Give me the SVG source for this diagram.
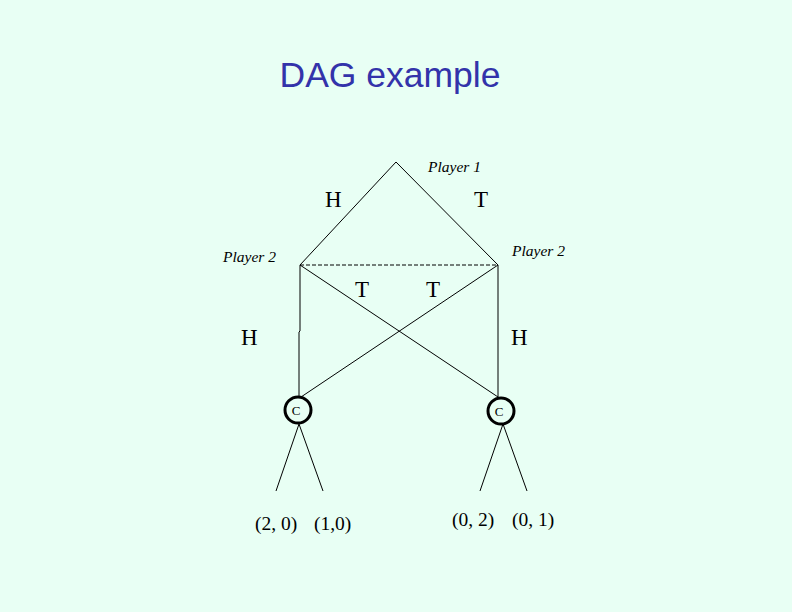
<svg xmlns="http://www.w3.org/2000/svg" width="792" height="612" viewBox="0 0 792 612">
<style>
.e{stroke:#000;stroke-width:1;fill:none}
.t{font-family:"Liberation Serif",serif;fill:#000}
.it{font-family:"Liberation Serif",serif;font-style:italic;font-size:15.5px;fill:#000}
.c{fill:none;stroke:#000;stroke-width:3}
</style>
<rect width="792" height="612" fill="#E8FFF4"/>
<text x="390" y="87" font-family="Liberation Sans,Arial,sans-serif" font-size="35.5" fill="#3333AA" text-anchor="middle">DAG example</text>
<g id="connectors">
<line class="e" x1="396" y1="162" x2="300" y2="265"/>
<line class="e" x1="396" y1="162" x2="498" y2="265"/>
<line class="e" x1="300" y1="265" x2="498" y2="265" stroke-dasharray="4,2"/>
<polyline class="e" points="300,265 300,331 299,332 299,397"/>
<line class="e" x1="498" y1="265" x2="498" y2="397"/>
<line class="e" x1="300" y1="265" x2="498" y2="397"/>
<line class="e" x1="498" y1="265" x2="301" y2="397"/>
<line class="e" x1="299" y1="424" x2="276" y2="491"/>
<line class="e" x1="299" y1="424" x2="323" y2="491"/>
<line class="e" x1="503" y1="424" x2="480" y2="491"/>
<line class="e" x1="503" y1="424" x2="527" y2="491"/>
</g>
<g id="player1"><text class="it" x="428" y="172">Player 1</text></g>
<g id="player2left"><text class="it" x="223" y="262">Player 2</text></g>
<g id="player2right"><text class="it" x="512" y="256">Player 2</text></g>
<g id="labels">
<text class="t" x="325" y="207" font-size="23">H</text>
<text class="t" x="474" y="207" font-size="23">T</text>
<text class="t" x="355" y="297" font-size="23">T</text>
<text class="t" x="426" y="297" font-size="23">T</text>
<text class="t" x="241" y="345" font-size="23">H</text>
<text class="t" x="511" y="345" font-size="23">H</text>
</g>
<g id="chanceLeft">
<circle class="c" cx="298" cy="410" r="13"/>
<text class="t" x="296" y="415" font-size="13" text-anchor="middle">C</text>
</g>
<g id="chanceRight">
<circle class="c" cx="501" cy="411" r="13"/>
<text class="t" x="499" y="416" font-size="13" text-anchor="middle">C</text>
</g>
<g id="payoffs">
<text class="t" x="255" y="530" font-size="19.5">(2, 0)</text>
<text class="t" x="314" y="530" font-size="19.5">(1,0)</text>
<text class="t" x="452" y="526" font-size="19.5">(0, 2)</text>
<text class="t" x="512" y="526" font-size="19.5">(0, 1)</text>
</g>
</svg>
